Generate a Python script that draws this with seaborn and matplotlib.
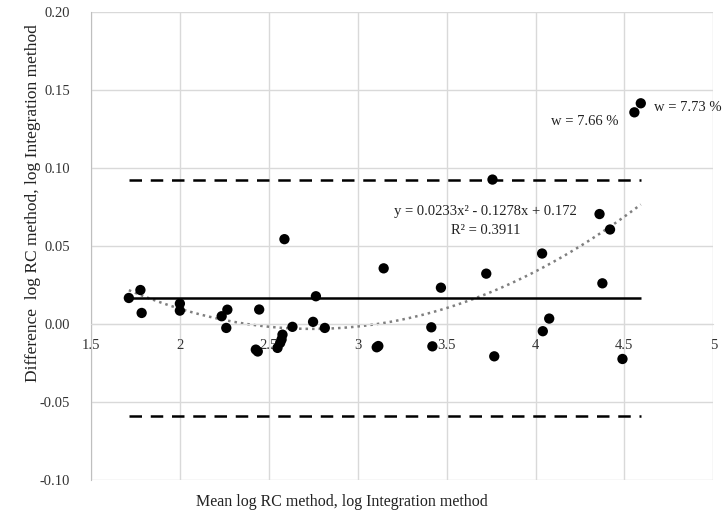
import numpy as np
import pandas as pd
import matplotlib
matplotlib.use("Agg")
import matplotlib.pyplot as plt
import seaborn as sns

# Bland-Altman data
mean_log = [1.713, 1.778, 1.785, 2.000, 2.000, 2.235, 2.267, 2.261, 2.446, 2.427,
            2.438, 2.549, 2.564, 2.572, 2.577, 2.588, 2.633, 2.749, 2.765, 2.815,
            3.107, 3.116, 3.146, 3.414, 3.420, 3.468, 3.723, 3.758, 3.768, 4.037,
            4.041, 4.077, 4.360, 4.376, 4.419, 4.489, 4.556, 4.592]
diff_log = [0.0166, 0.0217, 0.0070, 0.0130, 0.0085, 0.0049, 0.0091, -0.0026, 0.0092, -0.0165,
            -0.0177, -0.0154, -0.0122, -0.0100, -0.0069, 0.0543, -0.0019, 0.0013, 0.0177, -0.0026,
            -0.0150, -0.0142, 0.0356, -0.0022, -0.0144, 0.0232, 0.0322, 0.0925, -0.0208, 0.0451,
            -0.0047, 0.0034, 0.0704, 0.0260, 0.0605, -0.0225, 0.1356, 0.1414]

mean_diff = 0.0167
limits = [0.0925, -0.0592]

eq_text = "y = 0.0233x² - 0.1278x + 0.172"
r2_text = "R² = 0.3911"
w_labels = ["w = 7.66 %", "w = 7.73 %"]

df = pd.DataFrame({"mean": mean_log, "diff": diff_log})

sns.set_style("whitegrid")
plt.rcParams["font.family"] = ["Liberation Serif", "DejaVu Serif"]
plt.rcParams["axes.unicode_minus"] = False

fig = plt.figure(figsize=(7.22, 5.16), dpi=100)
ax = fig.add_axes([0.126, 0.070, 0.862, 0.907])

grid_col = "#d9d9d9"

# quadratic trend line (gray dotted)
sns.regplot(data=df, x="mean", y="diff", order=2, ci=None, scatter=False, ax=ax,
            line_kws=dict(color="#7f7f7f", ls=(0, (1, 1.6)), lw=1.8))

xmin, xmax = df["mean"].min(), df["mean"].max()
ax.hlines(mean_diff, xmin, xmax, color="black", lw=1.8, zorder=3)
for lim in limits:
    ax.hlines(lim, xmin, xmax, color="black", lw=1.8, ls=(0, (5, 3.5)), zorder=3)

sns.scatterplot(data=df, x="mean", y="diff", color="black", s=55, edgecolor="none",
                ax=ax, zorder=4)

ax.set_xlim(1.5, 5)
ax.set_ylim(-0.10, 0.20)
ax.set_xticks(np.arange(1.5, 5.01, 0.5))
ax.set_xticklabels(["1.5", "2", "2.5", "3", "3.5", "4", "4.5", "5"])
ax.set_yticks(np.arange(-0.10, 0.201, 0.05))
ax.set_yticklabels([f"{v:.2f}" for v in np.arange(-0.10, 0.201, 0.05)])
ax.tick_params(axis="both", length=0, labelsize=10.5, colors="#333333")
ax.tick_params(axis="x", pad=11)
ax.tick_params(axis="y", pad=15)
ax.grid(True, color=grid_col, lw=1)

for s in ["top", "right"]:
    ax.spines[s].set_visible(False)
ax.spines["left"].set_color("#bfbfbf")
ax.spines["bottom"].set_position(("data", 0))
ax.spines["bottom"].set_color(grid_col)

ax.set_xlabel("Mean log RC method, log Integration method", fontsize=11.5, color="#222222")
ax.set_ylabel("Difference  log RC method, log Integration method", fontsize=12.5, color="#222222")
ax.xaxis.set_label_coords(0.403, -0.03)
ax.yaxis.set_label_coords(-0.08, 0.592)

ax.text(3.719, 0.072, eq_text, ha="center", va="center", fontsize=10.5, color="#222222")
ax.text(3.719, 0.0598, r2_text, ha="center", va="center", fontsize=10.5, color="#222222")
ax.text(4.275, 0.1295, w_labels[0], ha="center", va="center", fontsize=10.5, color="#222222")
ax.text(4.669, 0.1385, w_labels[1], ha="left", va="center", fontsize=10.5, color="#222222")

fig.savefig("out.png", dpi=100)
